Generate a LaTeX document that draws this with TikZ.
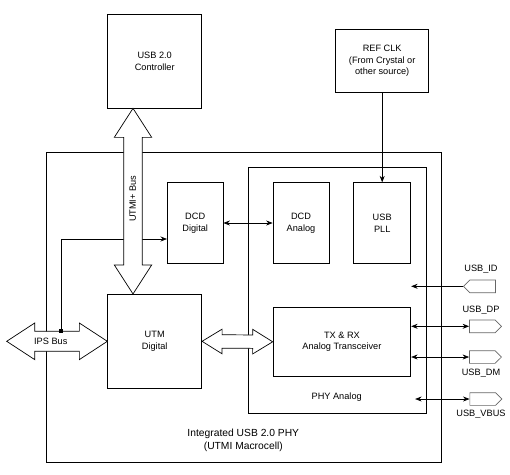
\documentclass[tikz,border=0pt]{standalone}
\usepackage{fontspec}
\setmainfont{Liberation Sans}
\usepackage{tikz}
\usetikzlibrary{arrows.meta,calc,shapes.symbols}
\tikzset{
  blk/.style={draw,inner sep=0pt,align=center,font=\fontsize{9.2}{11.7}\selectfont},
  lbl/.style={inner sep=0pt,align=center,font=\fontsize{9.2}{11.7}\selectfont},
  pinbox/.style={draw=black!60,signal,signal to=#1,minimum width=32pt,minimum height=12.7pt,inner sep=0pt},
  sig/.style={-{Stealth[length=6.5pt,width=5pt]}},
  dsig/.style={{Stealth[length=6.5pt,width=5pt]}-{Stealth[length=6.5pt,width=5pt]}},
  bus/.style={draw,fill=white}
}
%fat double arrow: from, to, half shaft, half head, head length
\newcommand{\busarrow}[5]{%
  \draw[bus] (#1)
    -- ($(#1)!#5!(#2)!#4!90:(#2)$) -- ($(#1)!#5!(#2)!#3!90:(#2)$)
    -- ($(#2)!#5!(#1)!#3!-90:(#1)$) -- ($(#2)!#5!(#1)!#4!-90:(#1)$)
    -- (#2)
    -- ($(#2)!#5!(#1)!#4!90:(#1)$) -- ($(#2)!#5!(#1)!#3!90:(#1)$)
    -- ($(#1)!#5!(#2)!#3!-90:(#2)$) -- ($(#1)!#5!(#2)!#4!-90:(#2)$)
    -- cycle;}

\begin{document}
\begin{tikzpicture}[x=1pt,y=-1pt,line width=0.7pt]
                \useasboundingbox (0,0) rectangle (510,474);

                %outer frames first
                \node (outer) at (244.2,307.3) [draw,minimum width=395pt,minimum height=310.7pt]{};
                \node (phy) at (337,290.3) [draw,minimum width=178pt,minimum height=246pt]{};

                %the blocks
                \node (ctrl) at (154.7,61) [blk,minimum width=94pt,minimum height=94pt]{USB 2.0\\Controller};
                \node (refclk) at (382.2,61) [blk,minimum width=93pt,minimum height=62.6pt]{REF CLK\\(From Crystal or\\other source)};
                \node (dcdd) at (195.2,223) [blk,minimum width=55.7pt,minimum height=80.6pt]{DCD\\Digital};
                \node (dcda) at (301,223) [blk,minimum width=56pt,minimum height=80.6pt]{DCD\\Analog};
                \node (pll) at (382.2,223) [blk,minimum width=57pt,minimum height=80.6pt]{USB\\PLL};
                \node (utm) at (154.7,341.3) [blk,minimum width=94pt,minimum height=94pt]{UTM\\Digital};
                \node (tx) at (341.9,341.8) [blk,minimum width=137.7pt,minimum height=68.3pt]{TX \& RX\\Analog Transceiver};

                %label the frames
                \node[lbl] at (336.7,397.3) {PHY Analog};
                \node[lbl,font=\fontsize{10.3}{13.8}\selectfont] at (243.3,440.3) {Integrated USB 2.0 PHY\\(UTMI Macrocell)};

                %thin connections
                \coordinate (tap) at (61,331);
                \draw[sig] (tap) |- ([yshift=-16pt]dcdd.west);
                \draw[sig] (refclk) -- (pll);
                \draw[dsig] (dcdd) -- (dcda);

                %pins on the right and their signals
                \node (idpin) at (482.7,286.3) [pinbox=west]{};
                \node (dppin) at (482.3,326.3) [pinbox=east]{};
                \node (dmpin) at (482.3,357) [pinbox=east]{};
                \node (vbpin) at (482.7,399) [pinbox=east]{};
                \draw[sig] (idpin.west) -- (idpin.west -| tx.east);
                \draw[dsig] (tx.east |- dppin.west) -- (dppin.west);
                \draw[dsig] (tx.east |- dmpin.west) -- (dmpin.west);
                \draw[dsig] ($(tx.east |- vbpin.west)+(4,0)$) -- (vbpin.west);
                \node[lbl] at (481,269.3) {USB\_ID};
                \node[lbl] at (481,310) {USB\_DP};
                \node[lbl] at (481,373.3) {USB\_DM};
                \node[lbl] at (481,414.3) {USB\_VBUS};

                %fat bus arrows
                \coordinate (ipsend) at (6.7,341.3);
                \coordinate (utmitop) at ([xshift=-21.7pt]ctrl.south);
                \coordinate (utmibot) at ([xshift=-21.7pt]utm.north);
                \busarrow{ipsend}{utm.west}{10pt}{18.3pt}{28pt}
                \busarrow{utmitop}{utmibot}{9.3pt}{18.7pt}{29pt}
                \busarrow{utm.east}{tx.west}{6.7pt}{12.3pt}{20pt}

                %bus labels and the tap dot
                \node[lbl] at (50.8,341.3) {IPS Bus};
                \node[lbl,rotate=90] at (132.7,198.8) {UTMI+ Bus};
                \node at (tap) [fill,inner sep=0pt,minimum size=4.5pt]{};
            \end{tikzpicture}
\end{document}
